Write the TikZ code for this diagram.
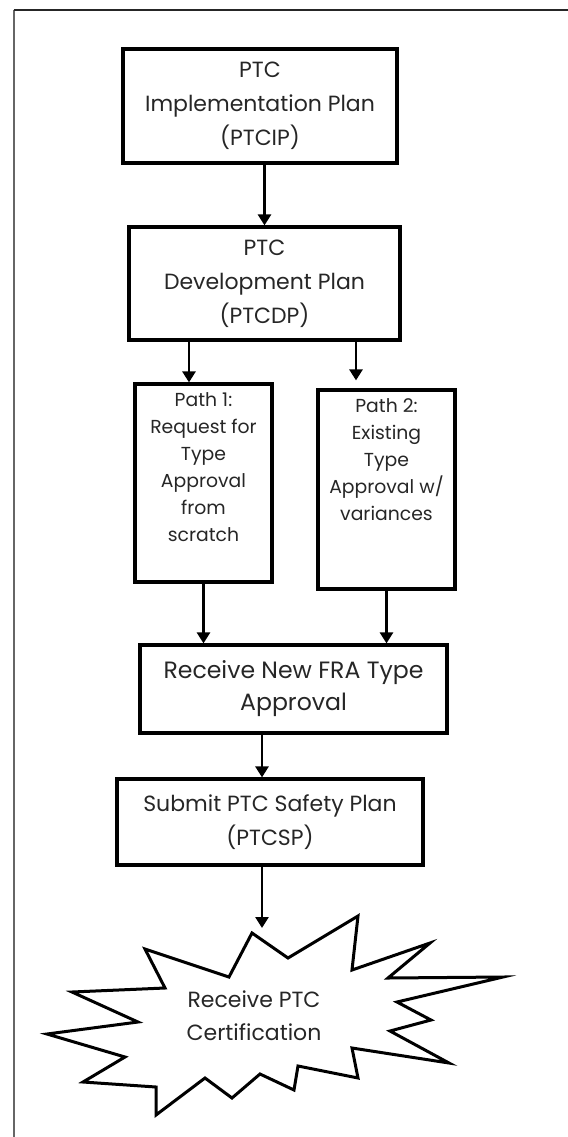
\documentclass[tikz,border=0pt]{standalone}
\usepackage{fontspec}
\setmainfont{Poppins}
\usetikzlibrary{arrows.meta}

\begin{document}
\begin{tikzpicture}[x=0.5pt,y=-0.5pt,
    plan/.style={draw,line width=1.6pt,align=center,inner sep=0pt,text=black!85,font=\fontsize{11}{17}\selectfont},
    pathbox/.style={draw,line width=1.6pt,inner sep=0pt,minimum width=68.5pt},
    pathtext/.style={anchor=north,align=center,inner sep=0pt,yshift=-5pt,text=black!85,font=\fontsize{9.4}{13.5}\selectfont},
    flow/.style={line width=1.3pt,-{Triangle[width=6.5pt,length=5.5pt]}}]
  \useasboundingbox (0,0) rectangle (568,1137);
  % frame
  \draw[line width=1pt,black!60] (14,1137) -- (14,10);
  \draw[line width=1pt,black!85] (13.5,10) -- (568,10);
  % plans
  \node[plan,minimum width=137pt,minimum height=57pt] (ptcip) at (260,106) {PTC\\Implementation Plan\\(PTCIP)};
  \node[plan,minimum width=135.5pt,minimum height=56.5pt] (ptcdp) at (264.5,283.5) {PTC\\Development Plan\\(PTCDP)};
  \node[pathbox,minimum height=99pt,label={[pathtext]north:{Path 1:\\Request for\\Type\\Approval\\from\\scratch}}] (path1) at (203.5,483) {};
  \node[pathbox,minimum height=99.5pt,label={[pathtext]north:{Path 2:\\Existing\\Type\\Approval w/\\variances}}] (path2) at (386.5,489.5) {};
  \node[plan,minimum width=153.5pt,minimum height=44pt,font=\fontsize{11.8}{16}\selectfont] (fra) at (293.5,689) {Receive New FRA Type\\Approval};
  \node[plan,minimum width=153pt,minimum height=43pt] (csp) at (270,822) {Submit PTC Safety Plan\\(PTCSP)};
  % certification burst
  \draw[line width=1.5pt,line join=miter] (252,933) -- (288,958) -- (358,916) -- (352,970) -- (430,943) -- (388,978)
    -- (503,977) -- (397,1002) -- (431,1020) -- (390,1031) -- (449,1063) -- (352,1048) -- (358,1078)
    -- (298,1066) -- (294,1090) -- (260,1074) -- (232,1098) -- (205,1078) -- (156,1115) -- (156,1087)
    -- (83,1082) -- (125,1057) -- (47,1034) -- (138,1022) -- (72,992) -- (165,988) -- (145,949) -- (229,977) -- cycle;
  \node[align=center,inner sep=0pt,text=black!85,font=\fontsize{11}{16.5}\selectfont] (cert) at (254,1016) {Receive PTC\\Certification};
  \coordinate (burst) at (262,928);
  % arrows
  \draw[flow] (ptcip.south -| ptcdp.north) -- (ptcdp.north);
  \draw[flow] ([xshift=-7.25pt]ptcdp.south -| path1.north) -- ([xshift=-7.25pt]path1.north);
  \draw[flow] ([xshift=-15.25pt]ptcdp.south -| path2.north) -- ([xshift=-15.25pt,yshift=4pt]path2.north);
  \draw[flow] (path1.south) -- (path1.south |- fra.north);
  \draw[flow] (path2.south) -- (path2.south |- fra.north);
  \draw[flow] ([xshift=-4pt]fra.south -| csp.north) -- ([xshift=-4pt]csp.north);
  \draw[flow] (csp.south -| burst) -- (burst);
\end{tikzpicture}
\end{document}
